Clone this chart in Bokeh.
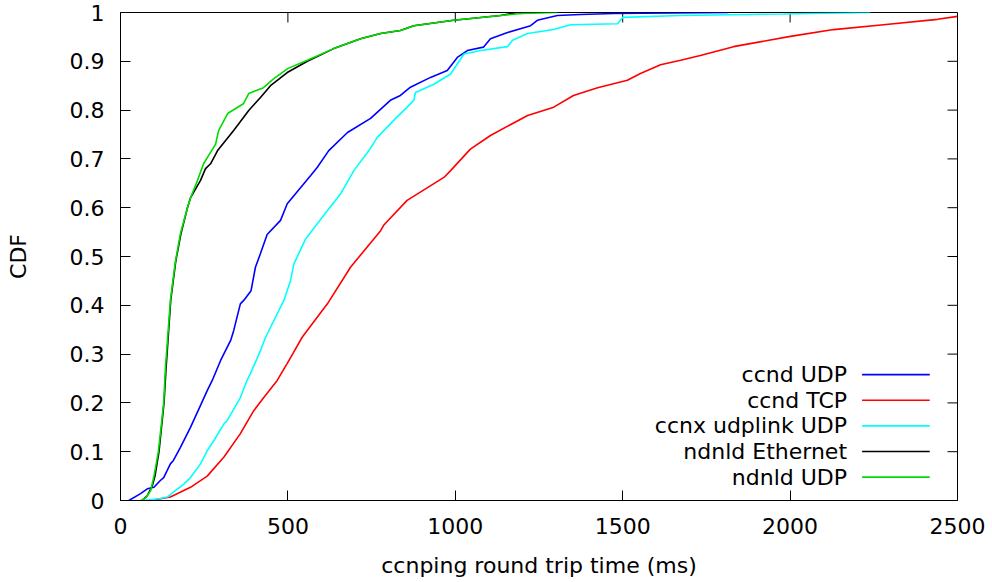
from bokeh.plotting import figure
from bokeh.models import Range1d, FixedTicker
from bokeh.core.properties import value
from bokeh.embed import file_html
from bokeh.resources import INLINE

# ---------------- data ----------------
series_names = ["ccnd UDP", "ccnd TCP", "ccnx udplink UDP", "ndnld Ethernet", "ndnld UDP"]
series_colors = ["#0000ff", "#ff0000", "#00ffff", "#000000", "#00dd00"]

ccnd_udp_ms = [25, 60, 80, 100, 119, 129, 149, 158, 179, 209, 239, 259, 274, 299, 329, 338, 358, 368,
               390, 403, 418, 438, 478, 498, 568, 588, 622, 678, 747, 806, 836, 866, 926, 976, 1006,
               1036, 1084, 1105, 1156, 1225, 1245, 1305, 1374, 1473, 1816]
ccnd_udp_cdf = [0.0, 0.014, 0.024, 0.027, 0.041, 0.047, 0.075, 0.082, 0.109, 0.15, 0.195, 0.225, 0.246,
                0.287, 0.328, 0.348, 0.403, 0.41, 0.43, 0.478, 0.506, 0.545, 0.574, 0.608, 0.666, 0.683,
                0.717, 0.754, 0.783, 0.82, 0.83, 0.847, 0.867, 0.881, 0.908, 0.922, 0.929, 0.946, 0.959,
                0.973, 0.984, 0.994, 0.996, 0.998, 1.0]

ccnd_tcp_ms = [90, 149, 209, 259, 309, 358, 398, 428, 468, 498, 514, 543, 618, 687, 777, 786, 856, 966,
               986, 1045, 1105, 1216, 1294, 1353, 1425, 1514, 1553, 1613, 1673, 1732, 1831, 2001, 2130,
               2279, 2440, 2500]
ccnd_tcp_cdf = [0.0, 0.007, 0.027, 0.05, 0.089, 0.137, 0.184, 0.211, 0.246, 0.281, 0.3, 0.335, 0.403,
                0.478, 0.553, 0.564, 0.615, 0.662, 0.676, 0.72, 0.748, 0.789, 0.806, 0.83, 0.846, 0.861,
                0.875, 0.893, 0.902, 0.912, 0.93, 0.951, 0.965, 0.975, 0.986, 0.992]

ccnx_ms = [70, 119, 140, 158, 190, 209, 239, 259, 279, 309, 319, 358, 378, 388, 418, 433, 488, 508, 518,
           553, 602, 657, 697, 742, 767, 816, 856, 876, 881, 936, 986, 1026, 1076, 1156, 1171, 1216,
           1294, 1344, 1485, 1500, 1673, 1980, 2240]
ccnx_cdf = [0.0, 0.004, 0.007, 0.017, 0.034, 0.047, 0.075, 0.102, 0.123, 0.157, 0.164, 0.211, 0.246,
            0.26, 0.307, 0.334, 0.41, 0.451, 0.485, 0.536, 0.58, 0.628, 0.676, 0.717, 0.744, 0.779,
            0.806, 0.82, 0.836, 0.853, 0.874, 0.915, 0.922, 0.93, 0.943, 0.957, 0.965, 0.975, 0.977,
            0.99, 0.994, 0.997, 1.0]

ndnld_eth_ms = [65, 80, 95, 103, 115, 130, 136, 150, 165, 180, 200, 209, 239, 254, 269, 290, 338, 383,
                418, 448, 498, 558, 637, 717, 777, 836, 876, 995, 1135, 1185]
ndnld_eth_cdf = [0.0, 0.01, 0.03, 0.05, 0.1, 0.2, 0.27, 0.41, 0.49, 0.545, 0.6, 0.62, 0.656, 0.68, 0.69,
                 0.717, 0.758, 0.799, 0.826, 0.85, 0.877, 0.9, 0.926, 0.946, 0.957, 0.963, 0.973, 0.984,
                 0.994, 1.0]

ndnld_udp_ms = [60, 75, 90, 100, 113, 119, 129, 134, 149, 164, 179, 200, 209, 230, 248, 275, 284, 293,
                320, 367, 383, 427, 457, 499, 558, 637, 717, 777, 836, 876, 995, 1135, 1200, 1305]
ndnld_udp_cdf = [0.0, 0.005, 0.02, 0.05, 0.1, 0.137, 0.2, 0.27, 0.41, 0.49, 0.547, 0.6, 0.62, 0.656,
                 0.69, 0.72, 0.73, 0.758, 0.793, 0.813, 0.834, 0.846, 0.864, 0.885, 0.902, 0.926, 0.946,
                 0.957, 0.963, 0.973, 0.984, 0.994, 0.998, 1.0]

x_ticks = [0, 500, 1000, 1500, 2000, 2500]
y_ticks = [0, 0.1, 0.2, 0.3, 0.4, 0.5, 0.6, 0.7, 0.8, 0.9, 1]
y_tick_labels = ["0", "0.1", "0.2", "0.3", "0.4", "0.5", "0.6", "0.7", "0.8", "0.9", "1"]

# ---------------- layout ----------------
FONT = "DejaVu Sans"
FS = "22px"
W, H = 992, 582
B_LEFT, B_RIGHT, B_TOP, B_BOTTOM = 120, 35, 12, 82
FRAME_W = W - B_LEFT - B_RIGHT
FRAME_H = H - B_TOP - B_BOTTOM
X0, X1, Y0, Y1 = 0, 2500, 0, 1
TICK_PX = 10

p = figure(width=W, height=H, output_backend="svg", toolbar_location=None,
           x_range=Range1d(X0, X1), y_range=Range1d(Y0, Y1),
           min_border_left=B_LEFT, min_border_right=B_RIGHT,
           min_border_top=B_TOP, min_border_bottom=B_BOTTOM,
           x_axis_label="ccnping round trip time (ms)", y_axis_label="CDF")
p.grid.visible = False
p.outline_line_color = "black"
p.outline_line_width = 1
p.background_fill_color = "white"
p.border_fill_color = "white"

p.xaxis.ticker = FixedTicker(ticks=x_ticks)
p.yaxis.ticker = FixedTicker(ticks=y_ticks)
p.yaxis.major_label_overrides = {t: l for t, l in zip(y_ticks, y_tick_labels)}
p.xaxis.major_label_overrides = {t: str(t) for t in x_ticks}

for ax in (p.xaxis[0], p.yaxis[0]):
    ax.major_tick_in = TICK_PX
    ax.major_tick_out = 0
    ax.minor_tick_line_color = None
    ax.axis_line_color = "black"
    ax.major_tick_line_color = "black"
    ax.major_label_text_font = FONT
    ax.major_label_text_font_size = FS
    ax.major_label_text_color = "black"
    ax.axis_label_text_font = FONT
    ax.axis_label_text_font_size = FS
    ax.axis_label_text_font_style = "normal"
    ax.axis_label_text_color = "black"

p.yaxis.major_label_standoff = 16
p.yaxis.axis_label_standoff = 36
p.xaxis.major_label_standoff = 17
p.xaxis.axis_label_standoff = 16

# mirror ticks on the top and right borders (gnuplot style), from the tick lists
dy_tick = TICK_PX / FRAME_H * (Y1 - Y0)
dx_tick = TICK_PX / FRAME_W * (X1 - X0)
p.segment(x0=x_ticks, y0=[Y1] * len(x_ticks), x1=x_ticks, y1=[Y1 - dy_tick] * len(x_ticks),
          line_color="black", line_width=1)
p.segment(x0=[X1] * len(y_ticks), y0=y_ticks, x1=[X1 - dx_tick] * len(y_ticks), y1=y_ticks,
          line_color="black", line_width=1)

xs_all = [ccnd_udp_ms, ccnd_tcp_ms, ccnx_ms, ndnld_eth_ms, ndnld_udp_ms]
ys_all = [ccnd_udp_cdf, ccnd_tcp_cdf, ccnx_cdf, ndnld_eth_cdf, ndnld_udp_cdf]
for xs, ys, c in zip(xs_all, ys_all, series_colors):
    p.line(xs, ys, line_color=c, line_width=1.6)

# ---------------- legend (gnuplot style: text right-aligned, then sample line) ----------------
LEG_TEXT_X = 2170
LEG_LINE_X0 = 2215
LEG_LINE_X1 = 2417
LEG_TOP = 0.258
LEG_STEP = 0.0525
leg_y = [LEG_TOP - i * LEG_STEP for i in range(len(series_names))]
p.text(x=[LEG_TEXT_X] * len(series_names), y=leg_y, text=series_names,
       text_font=value(FONT), text_font_size=value(FS), text_align="right",
       text_baseline="middle", text_color="black")
p.segment(x0=[LEG_LINE_X0] * len(series_names), y0=leg_y,
          x1=[LEG_LINE_X1] * len(series_names), y1=leg_y,
          line_color=series_colors, line_width=1.6)

open("out.html", "w").write(file_html(p, INLINE))
